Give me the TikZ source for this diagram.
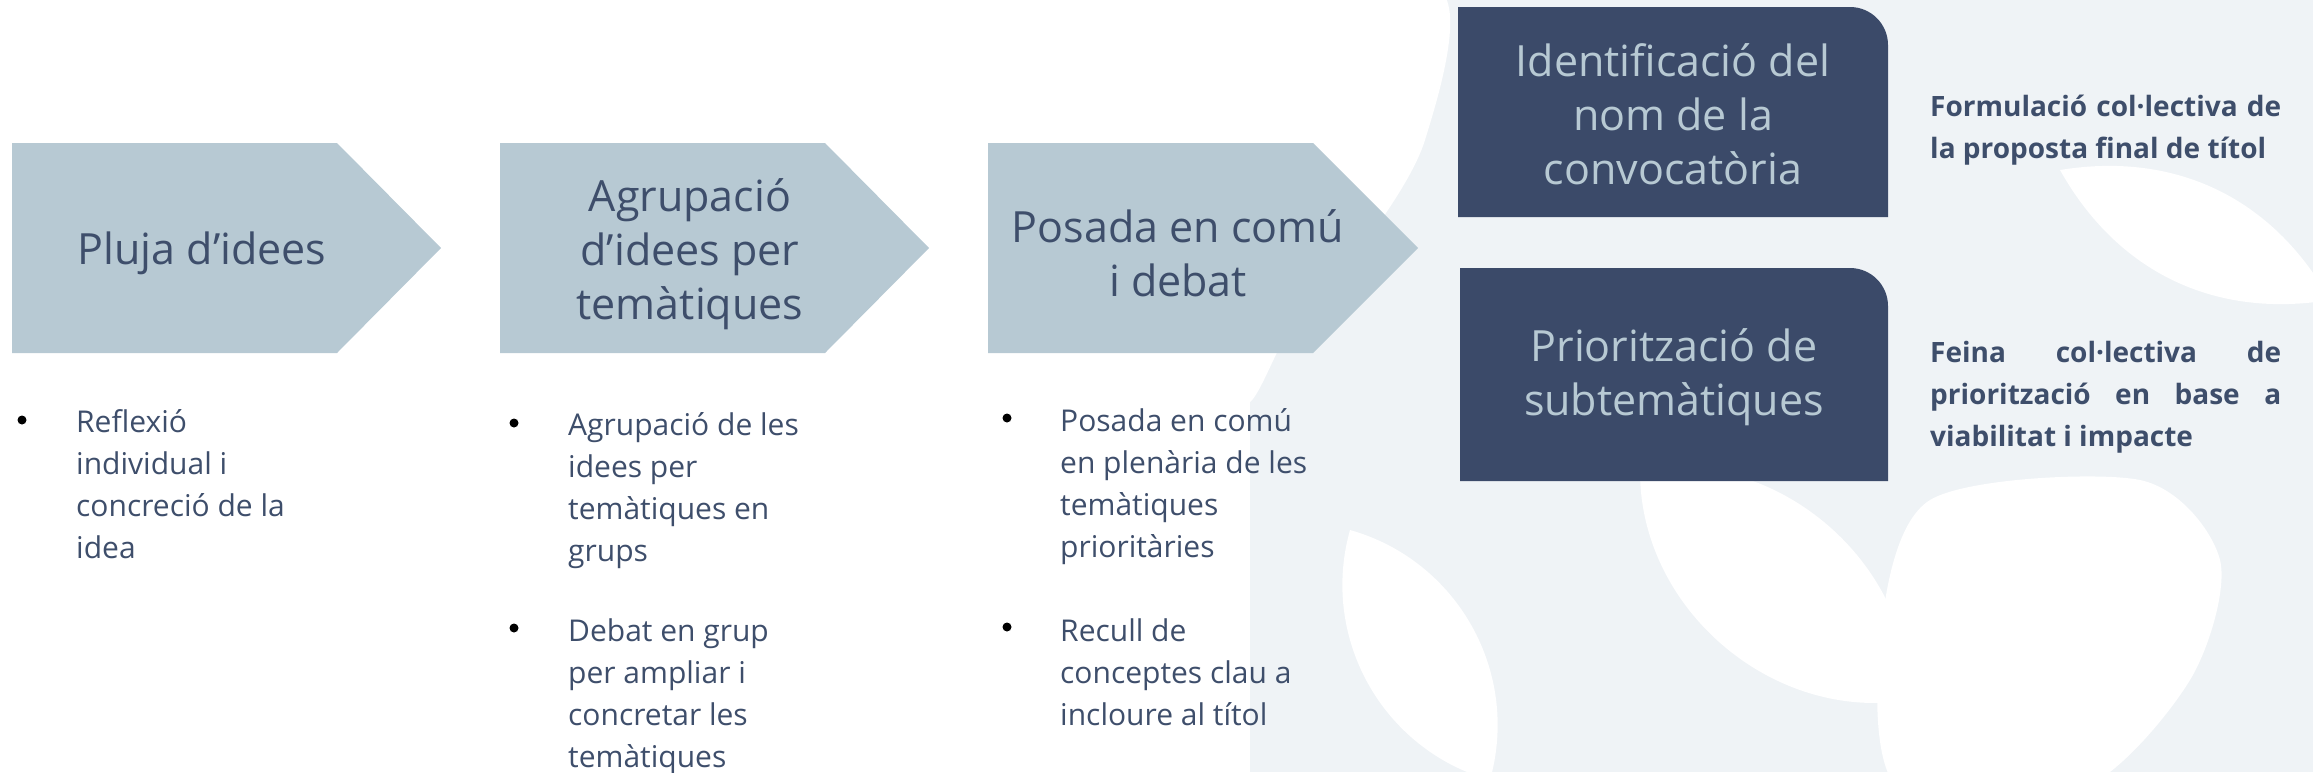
\documentclass[tikz,border=0pt]{standalone}
\usepackage{fontspec}
\setmainfont{Open Sans}
\usepackage{tikz}
\definecolor{chevfill}{RGB}{183,201,211}
\definecolor{navy}{RGB}{59,74,105}
\definecolor{ink}{RGB}{62,78,107}
\definecolor{pale}{RGB}{239,243,246}
\tikzset{chev/.style = {fill = chevfill}}
\tikzset{navybox/.style = {fill = navy}}
\tikzset{chevtitle/.style = {text = ink, align = center, inner sep = 0,
                             font = \fontsize{43}{54}\selectfont}}
\tikzset{boxtitle/.style = {text = chevfill, align = center, inner sep = 0,
                            font = \fontsize{43}{54}\selectfont}}
\tikzset{itemtext/.style = {text = ink, align = left, inner sep = 0, anchor = base west,
                            font = \fontsize{30}{41.7}\selectfont}}
\tikzset{sidetext/.style = {text = ink, align = left, inner sep = 0, anchor = base west,
                            font = \fontsize{28}{42}\selectfont\bfseries}}
\tikzset{circ/.style = {fill, circle, inner sep = 0, minimum size = 9}}
\newcommand{\just}[1]{\makebox[351pt][s]{#1}}

\begin{document}
\begin{tikzpicture}[x = 1pt, y = -1pt]
      \useasboundingbox (0, 0) rectangle (2313, 772);

      % watermark
      \fill [pale] (1250, 0) rectangle (2313, 772);
      \fill [white] plot [smooth cycle] coordinates {(1240, -10) (1440, -10) (1425, 140)
            (1360, 250) (1290, 330) (1240, 390)};
      \fill [white] (1350, 530) to [bend left = 45] (1490, 780) to [bend left = 45] cycle;
      \fill [white] (1640, 470) to [bend left = 50] (1910, 700) to [bend left = 50] cycle;
      \fill [white] plot [smooth cycle] coordinates {(1930, 500) (2140, 480) (2220, 560)
            (2190, 680) (2080, 790) (1900, 790) (1880, 640)};
      \fill [white] (2060, 170) to [bend left = 35] (2330, 300) to [bend left = 35] cycle;

      % steps
      \fill [chev] (12, 143) -- (337, 143) -- (441, 248) -- (337, 353) -- (12, 353) -- cycle;
      \fill [chev] (500, 143) -- (825, 143) -- (929, 248) -- (825, 353) -- (500, 353) -- cycle;
      \fill [chev] (988, 143) -- (1313, 143) -- (1418, 248) -- (1313, 353) -- (988, 353) -- cycle;

      \node [chevtitle] (pluja) at (202, 253) {Pluja d’idees};
      \node [chevtitle] (agrupacio) at (690, 254) {Agrupació\\d’idees per\\temàtiques};
      \node [chevtitle] (posada) at (1178, 253) {Posada en comú\\i debat};

      % results
      \fill [navybox] (1458, 217) -- (1458, 7) -- (1850, 7)
            arc [start angle = -90, end angle = 0, radius = 38] -- (1888, 217) -- cycle;
      \fill [navybox] (1460, 481) -- (1460, 268) -- (1850, 268)
            arc [start angle = -90, end angle = 0, radius = 38] -- (1888, 481) -- cycle;

      \node [boxtitle] (ident) at (1673, 114) {Identificació del\\nom de la\\convocatòria};
      \node [boxtitle] (prior) at (1674, 377) {Priorització de\\subtemàtiques};

      \node [sidetext] (formul) at (1930, 158) {\just{Formulació col·lectiva de}\\la proposta final de títol};
      \node [sidetext] (feina) at (1930, 446) {\just{Feina col·lectiva de}\\\just{priorització en base a}\\viabilitat i impacte};

      % bullets
      \node [circ] (dot1) at (22, 420) {};
      \node [itemtext] (item1) at (76, 558) {Reflexió\\individual i\\concreció de la\\idea};

      \node [circ] (dot2) at (514, 423) {};
      \node [itemtext] (item2) at (568, 561) {Agrupació de les\\idees per\\temàtiques en\\grups};
      \node [circ] (dot3) at (514, 628) {};
      \node [itemtext] (item3) at (568, 767) {Debat en grup\\per ampliar i\\concretar les\\temàtiques};

      \node [circ] (dot4) at (1007, 418) {};
      \node [itemtext] (item4) at (1060, 557) {Posada en comú\\en plenària de les\\temàtiques\\prioritàries};
      \node [circ] (dot5) at (1007, 627) {};
      \node [itemtext] (item5) at (1060, 725) {Recull de\\conceptes clau a\\incloure al títol};
\end{tikzpicture}
\end{document}
